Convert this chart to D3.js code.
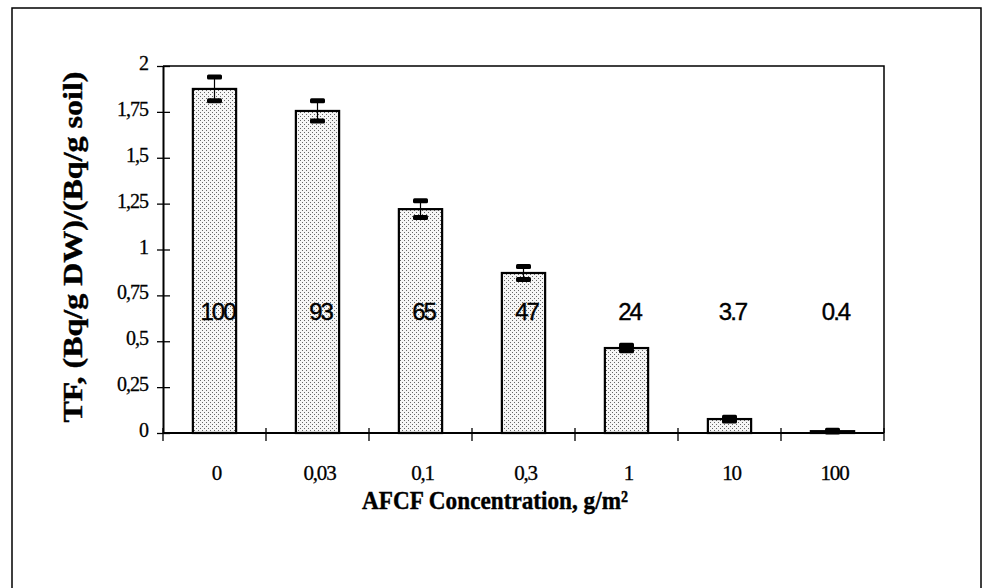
<!DOCTYPE html>
<html>
<head>
<meta charset="utf-8">
<script src="https://cdn.jsdelivr.net/npm/d3@7"></script>
<style>
  body { margin: 0; background: #fff; }
  svg { display: block; }
</style>
</head>
<body>
<svg id="chart"></svg>
<script>
// data
const categories = ["0", "0,03", "0,1", "0,3", "1", "10", "100"];
const tfValues = [1.875, 1.755, 1.22, 0.872, 0.463, 0.076, 0.01];
const tfErrors = [0.065, 0.055, 0.045, 0.035, 0.015, 0.01, 0.005];
const percentLabels = ["100", "93", "65", "47", "24", "3.7", "0.4"];
const yTickValues = [0, 0.25, 0.5, 0.75, 1, 1.25, 1.5, 1.75, 2];
const yTickLabels = ["0", "0,25", "0,5", "0,75", "1", "1,25", "1,5", "1,75", "2"];

const width = 985;
const height = 588;
const plot = { left: 163, top: 66, right: 884, bottom: 433 };

const svg = d3.select("#chart").attr("width", width).attr("height", height);

// stipple fill for the bars
const defs = svg.append("defs");
const pat = defs.append("pattern")
  .attr("id", "stipple")
  .attr("patternUnits", "userSpaceOnUse")
  .attr("width", 4)
  .attr("height", 4);
pat.append("rect").attr("width", 4).attr("height", 4).attr("fill", "#f6f6f6");
pat.append("rect").attr("x", 0).attr("y", 0).attr("width", 1).attr("height", 1).attr("fill", "#666");
pat.append("rect").attr("x", 2).attr("y", 2).attr("width", 1).attr("height", 1).attr("fill", "#666");

// outer frame (runs off the bottom of the picture)
svg.append("rect")
  .attr("x", 12).attr("y", 8)
  .attr("width", 969).attr("height", 620)
  .attr("fill", "none")
  .attr("stroke", "#000")
  .attr("stroke-width", 1.5);

// Scales
const xScale = d3.scaleBand()
  .domain(categories)
  .range([plot.left, plot.right])
  .padding(0);

const yScale = d3.scaleLinear()
  .domain([0, 2])
  .range([plot.bottom, plot.top]);

const barWidth = xScale.bandwidth() * 0.42;

// plot frame top / right
svg.append("path")
  .attr("d", `M${plot.left},${plot.top}H${plot.right}V${plot.bottom}`)
  .attr("fill", "none")
  .attr("stroke", "#000")
  .attr("stroke-width", 1.5);

// Bars
const g = svg.append("g");
g.selectAll("rect.bar")
  .data(tfValues)
  .join("rect")
  .classed("bar", true)
  .attr("x", (d, i) => xScale(categories[i]) + xScale.bandwidth() / 2 - barWidth / 2)
  .attr("y", (d) => yScale(d))
  .attr("width", barWidth)
  .attr("height", (d) => yScale(0) - yScale(d))
  .attr("fill", "url(#stipple)")
  .attr("stroke", "#000")
  .attr("stroke-width", 2.2);

// Error bars
const capW = 15;
const capH = 5;
tfValues.forEach((v, i) => {
  const cx = xScale(categories[i]) + xScale.bandwidth() / 2;
  const hi = yScale(v + tfErrors[i]);
  const lo = yScale(v - tfErrors[i]);
  g.append("line")
    .attr("x1", cx).attr("x2", cx)
    .attr("y1", hi).attr("y2", lo)
    .attr("stroke", "#000")
    .attr("stroke-width", 1.2);
  [hi, lo].forEach((y) => {
    g.append("rect")
      .attr("x", cx - capW / 2)
      .attr("y", y - capH / 2)
      .attr("width", capW)
      .attr("height", capH)
      .attr("rx", 1.5)
      .attr("fill", "#000");
  });
});

// Percent labels
g.selectAll("text.pct")
  .data(percentLabels)
  .join("text")
  .classed("pct", true)
  .attr("x", (d, i) => xScale(categories[i]) + xScale.bandwidth() / 2 + 3)
  .attr("y", yScale(0.615))
  .attr("text-anchor", "middle")
  .attr("stroke", "#000")
  .attr("stroke-width", 0.4)
  .style("font-family", "'Liberation Sans', Arial, sans-serif")
  .style("font-size", "24px")
  .style("letter-spacing", "-2px")
  .text((d) => d);

// Y axis
const yAxis = d3.axisLeft(yScale)
  .tickValues(yTickValues)
  .tickFormat((d, i) => yTickLabels[i])
  .tickSizeInner(-7)
  .tickSizeOuter(0)
  .tickPadding(0);

const yAxisGroup = svg.append("g")
  .attr("transform", `translate(${plot.left},0)`)
  .call(yAxis);
yAxisGroup.select(".domain").attr("stroke-width", 2);
yAxisGroup.selectAll(".tick line")
  .attr("x1", -6).attr("x2", 7)
  .attr("stroke-width", 1.3);
yAxisGroup.selectAll(".tick text")
  .attr("x", -15)
  .attr("dy", null)
  .attr("y", 3.5)
  .attr("stroke", "#000")
  .attr("stroke-width", 0.3)
  .style("font-family", "'Liberation Serif', 'Times New Roman', serif")
  .style("font-size", "20px")
  .style("letter-spacing", "-1px");

// X axis: ticks at category boundaries, labels at centres
const xAxisGroup = svg.append("g")
  .attr("transform", `translate(0,${plot.bottom})`);
xAxisGroup.append("line")
  .attr("x1", plot.left).attr("x2", plot.right)
  .attr("stroke", "#000")
  .attr("stroke-width", 2.2);
const boundaries = categories.map((c) => xScale(c)).concat([plot.right]);
xAxisGroup.selectAll("line.tick")
  .data(boundaries)
  .join("line")
  .classed("tick", true)
  .attr("x1", (d) => d).attr("x2", (d) => d)
  .attr("y1", -5).attr("y2", 8)
  .attr("stroke", "#000")
  .attr("stroke-width", 1.3);
xAxisGroup.selectAll("text")
  .data(categories)
  .join("text")
  .attr("x", (d) => xScale(d) + xScale.bandwidth() / 2 + 2)
  .attr("y", 47)
  .attr("text-anchor", "middle")
  .attr("stroke", "#000")
  .attr("stroke-width", 0.3)
  .style("font-family", "'Liberation Serif', 'Times New Roman', serif")
  .style("font-size", "21px")
  .style("letter-spacing", "-1.2px")
  .text((d) => d);

// axis titles
svg.append("text")
  .attr("transform", "translate(82,247) rotate(-90)")
  .attr("text-anchor", "middle")
  .attr("textLength", 351)
  .attr("lengthAdjust", "spacingAndGlyphs")
  .attr("stroke", "#000")
  .attr("stroke-width", 0.4)
  .style("font-family", "'Liberation Serif', 'Times New Roman', serif")
  .style("font-weight", "bold")
  .style("font-size", "27px")
  .text("TF, (Bq/g DW)/(Bq/g soil)");

svg.append("text")
  .attr("x", 495)
  .attr("y", 509)
  .attr("text-anchor", "middle")
  .attr("textLength", 266)
  .attr("lengthAdjust", "spacingAndGlyphs")
  .attr("stroke", "#000")
  .attr("stroke-width", 0.4)
  .style("font-family", "'Liberation Serif', 'Times New Roman', serif")
  .style("font-weight", "bold")
  .style("font-size", "26px")
  .text("AFCF Concentration, g/m²");
</script>
</body>
</html>
